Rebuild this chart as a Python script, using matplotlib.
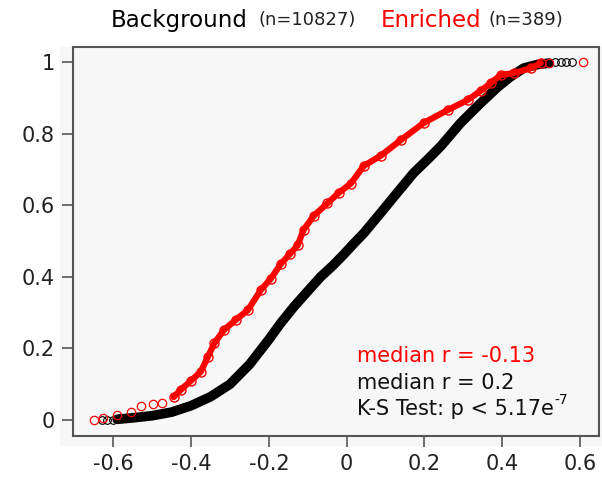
import matplotlib
matplotlib.use('Agg')
import matplotlib.pyplot as plt
from matplotlib.patches import Rectangle

# cumulative fraction curves
bg_x = [-0.59, -0.55, -0.50, -0.45, -0.40, -0.35, -0.30, -0.25, -0.20, -0.17,
        -0.136, -0.10, -0.067, -0.035, -0.008, 0.02, 0.044, 0.087, 0.13,
        0.172, 0.21, 0.242, 0.293, 0.344, 0.388, 0.42, 0.455, 0.49, 0.52]
bg_y = [0.002, 0.006, 0.012, 0.022, 0.04, 0.065, 0.10, 0.155, 0.225, 0.27,
        0.316, 0.36, 0.40, 0.432, 0.462, 0.495, 0.522, 0.578, 0.635,
        0.69, 0.73, 0.765, 0.83, 0.885, 0.93, 0.958, 0.983, 0.993, 0.997]
bg_tail_x = [-0.63, -0.615, -0.60, 0.535, 0.55, 0.565, 0.58]
bg_tail_y = [0.0, 0.0, 0.001, 0.999, 1.0, 1.0, 1.0]

en_x = [-0.445, -0.427, -0.40, -0.375, -0.357, -0.34, -0.316, -0.285, -0.254, -0.221,
        -0.195, -0.17, -0.145, -0.126, -0.111, -0.085, -0.05, -0.02, 0.01, 0.044,
        0.087, 0.139, 0.198, 0.26, 0.311, 0.345, 0.37, 0.396, 0.43, 0.473, 0.499]
en_y = [0.064, 0.084, 0.11, 0.135, 0.176, 0.215, 0.251, 0.28, 0.307, 0.363,
        0.395, 0.435, 0.465, 0.488, 0.531, 0.57, 0.605, 0.635, 0.66, 0.71,
        0.738, 0.782, 0.83, 0.866, 0.894, 0.92, 0.941, 0.964, 0.969, 0.983, 0.997]
en_tail_x = [-0.65, -0.627, -0.591, -0.555, -0.53, -0.499, -0.476, 0.52, 0.607]
en_tail_y = [0.0, 0.006, 0.014, 0.022, 0.039, 0.045, 0.048, 0.998, 1.0]

n_bg, n_en = 10827, 389
stats = ['median r = -0.13', 'median r = 0.2']
ks_text = 'K-S Test: p < 5.17e'
ks_exp = '-7'

xticks = [-0.6, -0.4, -0.2, 0, 0.2, 0.4, 0.6]
yticks = [0, 0.2, 0.4, 0.6, 0.8, 1]

plt.rcParams['font.family'] = ['DejaVu Sans']
plt.rcParams['axes.unicode_minus'] = False

W, H = 602, 478
fig = plt.figure(figsize=(W / 100, H / 100), dpi=100)

def fx(px):
    return px / W

def fy(py):
    return 1 - py / H

# light grey plotting region behind the axes
fig.patches.append(Rectangle((fx(60), fy(446)), fx(602) - fx(60), fy(47) - fy(446),
                             transform=fig.transFigure, facecolor='#f7f7f7',
                             edgecolor='none', zorder=0))

ax = fig.add_axes([fx(73), fy(436), fx(599) - fx(73), fy(47) - fy(436)])
ax.set_zorder(2)
ax.set_facecolor('#f7f7f7')

ax.plot(bg_x, bg_y, color='black', lw=7, solid_capstyle='round',
        solid_joinstyle='round', zorder=2)
ax.plot(bg_tail_x, bg_tail_y, 'o', mfc='none', mec='black', ms=5.5, mew=0.8, zorder=2)

ax.plot(en_x, en_y, color='red', lw=4.5, solid_capstyle='round',
        solid_joinstyle='round', zorder=3)
ax.plot(en_x, en_y, 'o', mfc='none', mec='red', ms=6.5, mew=1.0, zorder=3)
ax.plot(en_tail_x, en_tail_y, 'o', mfc='none', mec='red', ms=6, mew=0.9, zorder=3)

ax.set_xlim(-0.7036, 0.6486)
ax.set_ylim(-0.0447, 1.042)
ax.set_xticks(xticks)
ax.set_xticklabels([f'{t:g}' for t in xticks])
ax.set_yticks(yticks)
ax.set_yticklabels([f'{t:g}' for t in yticks])
ax.tick_params(direction='out', length=8, width=1.2, color='#555555',
               labelsize=15, labelcolor='#222222', pad=5)
for s in ax.spines.values():
    s.set_color('#555555')
    s.set_linewidth(1.5)

# title pieces
fig.text(fx(111), fy(27), 'Background', fontsize=16.5, color='black', va='baseline')
fig.text(fx(258), fy(25), f'(n={n_bg})', fontsize=13, color='#222222', va='baseline')
fig.text(fx(381), fy(27), 'Enriched', fontsize=16.5, color='red', va='baseline')
fig.text(fx(489), fy(25), f'(n={n_en})', fontsize=13, color='#222222', va='baseline')

# stats text
fig.text(fx(357), fy(362), stats[0], fontsize=15, color='red', va='baseline', zorder=5)
fig.text(fx(357), fy(389), stats[1], fontsize=15, color='#111111', va='baseline', zorder=5)
ks = fig.text(fx(357), fy(415), ks_text, fontsize=15, color='#111111', va='baseline', zorder=5)
fig.canvas.draw()
bb = ks.get_window_extent()
fig.text(bb.x1 / W + 0.001, fy(404), ks_exp, fontsize=10, color='#111111',
         va='baseline', zorder=5)

fig.savefig('out.png', dpi=100)
